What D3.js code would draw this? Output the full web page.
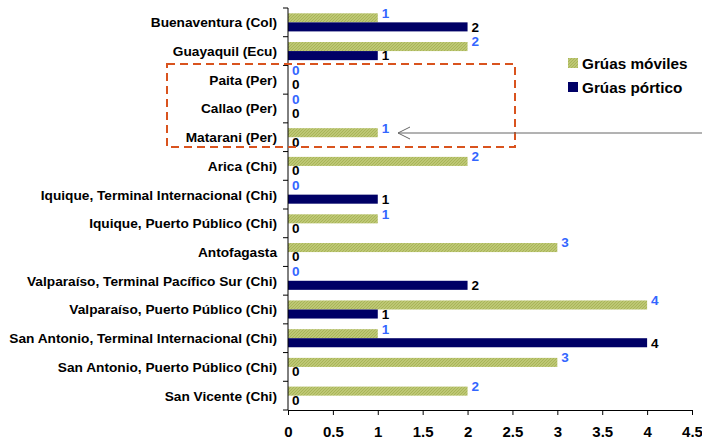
<!DOCTYPE html>
<html><head><meta charset="utf-8">
<script src="https://cdn.jsdelivr.net/npm/d3@7/dist/d3.min.js"></script>
<style>body{margin:0;background:#fff}svg{display:block}text{font-family:"Liberation Sans",Arial,sans-serif;font-weight:bold}</style>
</head><body><svg id="c" width="702" height="441"></svg>
<script>
const categories = ["Buenaventura (Col)","Guayaquil  (Ecu)","Paita (Per)","Callao (Per)","Matarani (Per)","Arica (Chi)","Iquique, Terminal Internacional  (Chi)","Iquique, Puerto Público (Chi)","Antofagasta","Valparaíso, Terminal Pacífico Sur (Chi)","Valparaíso, Puerto Público (Chi)","San Antonio, Terminal Internacional (Chi)","San Antonio, Puerto Público (Chi)","San Vicente (Chi)"];
const moviles = [1,2,0,0,1,2,0,1,3,0,4,1,3,2];
const portico = [2,1,0,0,0,0,1,0,0,2,1,4,0,0];
const seriesNames = ["Grúas móviles","Grúas pórtico"];
const xTicks = [0,0.5,1,1.5,2,2.5,3,3.5,4,4.5];

const svg = d3.select("#c");
const L = 288, R = 692, T = 8, B = 410;
const x = d3.scaleLinear().domain([0,4.5]).range([L,R]);
const y = d3.scaleBand().domain(categories).range([T,B]).paddingInner(0.37).paddingOuter(0.185);
const sub = d3.scaleBand().domain([0,1]).range([0,y.bandwidth()]);

const defs = svg.append("defs");
const pat = defs.append("pattern").attr("id","hatch").attr("patternUnits","userSpaceOnUse").attr("width",3).attr("height",3);
pat.append("rect").attr("width",3).attr("height",3).attr("fill","#BDC774");
pat.append("path").attr("d","M0,3 L3,0 M-1,1 L1,-1 M2,4 L4,2").attr("stroke","#A3B050").attr("stroke-width",0.8);

const colors = ["url(#hatch)","#000066"];
const labColors = ["#3366FF","#000"];
const labShift = [-5,0];
const data = [moviles, portico];

data.forEach((vals,si)=>{
  svg.append("g").selectAll("rect").data(categories).join("rect")
    .attr("x",x(0)).attr("y",d=>y(d)+sub(si))
    .attr("width",(d,i)=>x(vals[i])-x(0)).attr("height",sub.bandwidth())
    .attr("fill",colors[si]);
  svg.append("g").selectAll("text").data(categories).join("text")
    .attr("x",(d,i)=>x(vals[i])+(vals[i]===0?4:4))
    .attr("y",d=>y(d)+sub(si)+sub.bandwidth()/2+labShift[si])
    .attr("dy","0.36em").attr("font-size",13.5).attr("fill",labColors[si])
    .text((d,i)=>vals[i]);
});

// y axis
const yg = svg.append("g");
yg.append("line").attr("x1",L).attr("x2",L).attr("y1",T).attr("y2",B).attr("stroke","#000");
const bounds = d3.range(categories.length+1).map(i=>T+i*y.step());
yg.selectAll("line.t").data(bounds).join("line").attr("class","t")
  .attr("x1",L-5).attr("x2",L).attr("y1",d=>d).attr("y2",d=>d).attr("stroke","#000");
yg.selectAll("text").data(categories).join("text")
  .attr("x",277).attr("y",d=>y(d)+y.bandwidth()/2).attr("dy","0.36em")
  .attr("text-anchor","end").attr("font-size",13.7).attr("fill","#000").text(d=>d);

// x axis
const xa = svg.append("g").attr("transform",`translate(0,${B})`)
  .call(d3.axisBottom(x).tickValues(xTicks).tickSize(5).tickPadding(11).tickFormat(d=>String(d)));
xa.select(".domain").attr("stroke","#000");
xa.selectAll("line").attr("stroke","#000");
xa.selectAll("text").attr("font-size",15).attr("fill","#000").attr("font-family","Liberation Sans, Arial, sans-serif").attr("font-weight","bold");

// dashed box
svg.append("rect").attr("x",167).attr("y",64).attr("width",348).attr("height",83)
  .attr("fill","none").attr("stroke","#D9531E").attr("stroke-width",2).attr("stroke-dasharray","8,5");

// arrow
const ay = 133;
svg.append("line").attr("x1",702).attr("x2",398).attr("y1",ay).attr("y2",ay).attr("stroke","#666").attr("stroke-width",1);
svg.append("path").attr("d",`M410,${ay-6} L398,${ay} L410,${ay+6}`).attr("fill","none").attr("stroke","#666").attr("stroke-width",1);

// legend
const lg = svg.append("g");
seriesNames.forEach((n,i)=>{
  const yy = 58 + i*24;
  lg.append("rect").attr("x",568).attr("y",yy).attr("width",10).attr("height",10).attr("fill",colors[i]);
  lg.append("text").attr("x",582).attr("y",yy+5).attr("dy","0.36em").attr("font-size",15.3).attr("fill","#000").text(n);
});
</script></body></html>
